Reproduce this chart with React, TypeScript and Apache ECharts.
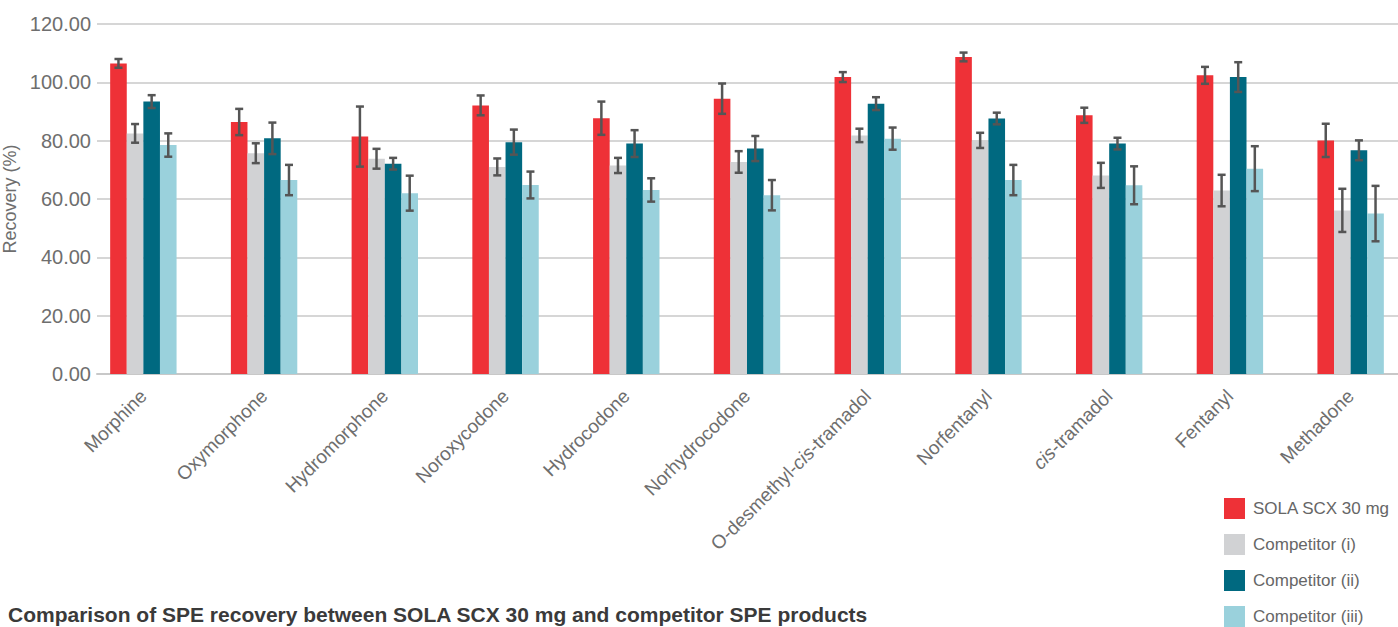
import React, { useEffect, useRef } from "react";
import * as echarts from "echarts";

const categories = [
  "Morphine",
  "Oxymorphone",
  "Hydromorphone",
  "Noroxycodone",
  "Hydrocodone",
  "Norhydrocodone",
  "O-desmethyl-cis-tramadol",
  "Norfentanyl",
  "cis-tramadol",
  "Fentanyl",
  "Methadone",
];

const seriesNames = ["SOLA SCX 30 mg", "Competitor (i)", "Competitor (ii)", "Competitor (iii)"];
const seriesColors = ["#EE3137", "#D1D2D4", "#006980", "#9AD1DC"];

const sola = [106.5, 86.4, 81.4, 92.1, 87.7, 94.4, 101.8, 108.7, 88.7, 102.4, 80.1];
const solaErr = [1.5, 4.5, 10.3, 3.4, 5.7, 5.2, 1.7, 1.5, 2.6, 2.9, 5.7];
const comp1 = [82.5, 75.7, 73.8, 71.0, 71.5, 72.7, 81.8, 80.1, 68.1, 62.9, 56.1];
const comp1Err = [3.2, 3.4, 3.4, 2.9, 2.6, 3.7, 2.3, 2.6, 4.3, 5.4, 7.4];
const comp2 = [93.4, 80.8, 72.1, 79.5, 79.0, 77.3, 92.7, 87.6, 79.0, 101.8, 76.7];
const comp2Err = [2.2, 5.4, 2.0, 4.3, 4.6, 4.3, 2.2, 2.0, 2.0, 5.1, 3.4];
const comp3 = [78.5, 66.5, 62.0, 64.8, 63.1, 61.3, 80.7, 66.5, 64.7, 70.4, 55.0];
const comp3Err = [4.0, 5.2, 6.0, 4.6, 4.0, 5.2, 3.8, 5.2, 6.5, 7.7, 9.5];

const yTicks = { min: 0, max: 120, interval: 20 };
const titleText = "Comparison of SPE recovery between SOLA SCX 30 mg and competitor SPE products";
const yName = "Recovery (%)";

const FONT = "'Liberation Sans', Arial, sans-serif";
const BAR_GAP_CAT = 0.45;

export default function App() {
  const ref = useRef<HTMLDivElement>(null);

  useEffect(() => {
    if (!ref.current) return;
    const chart = echarts.init(ref.current, null, { renderer: "svg" });
    const values = [sola, comp1, comp2, comp3];
    const errs = [solaErr, comp1Err, comp2Err, comp3Err];

    const barSeries = seriesNames.map((name, i) => ({
      name,
      type: "bar",
      xAxisIndex: 1,
      yAxisIndex: 1,
      data: values[i],
      barGap: "0%",
      barCategoryGap: BAR_GAP_CAT * 100 + "%",
      itemStyle: { color: seriesColors[i] },
      z: 2,
    }));

    const errData: number[][] = [];
    values.forEach((arr, si) => {
      arr.forEach((v, ci) => {
        errData.push([ci, v - errs[si][ci], v + errs[si][ci], si]);
      });
    });

    const errorSeries = {
      name: "err",
      type: "custom",
      xAxisIndex: 1,
      yAxisIndex: 1,
      data: errData,
      encode: { x: 0, y: [1, 2] },
      z: 5,
      renderItem: (params: any, api: any) => {
        const ci = api.value(0);
        const lo = api.value(1);
        const hi = api.value(2);
        const si = api.value(3);
        const band = api.size([1, 0])[0];
        const bw = (band * (1 - BAR_GAP_CAT)) / 4;
        const offset = -2 * bw + (si + 0.5) * bw;
        const pLo = api.coord([ci, lo]);
        const pHi = api.coord([ci, hi]);
        const x = pLo[0] + offset;
        const cap = 4;
        const style = { stroke: "#555555", lineWidth: 2.5, fill: "none" };
        return {
          type: "group",
          children: [
            { type: "line", shape: { x1: x, y1: pLo[1], x2: x, y2: pHi[1] }, style },
            { type: "line", shape: { x1: x - cap, y1: pHi[1], x2: x + cap, y2: pHi[1] }, style },
            { type: "line", shape: { x1: x - cap, y1: pLo[1], x2: x + cap, y2: pLo[1] }, style },
          ],
        };
      },
    };

    const option: any = {
      animation: false,
      backgroundColor: "#ffffff",
      textStyle: { fontFamily: FONT },
      title: {
        text: titleText,
        left: 8,
        top: 604,
        padding: 0,
        textStyle: { fontFamily: FONT, fontSize: 21, fontWeight: "bold", color: "#3a3a3a" },
      },
      legend: {
        orient: "vertical",
        left: 1224,
        top: 498,
        height: 200,
        padding: 0,
        itemWidth: 21,
        itemHeight: 21,
        itemGap: 15,
        icon: "rect",
        data: seriesNames,
        textStyle: { fontFamily: FONT, fontSize: 17, color: "#666666", padding: [0, 0, 0, 3] },
      },
      grid: [
        { left: 97, right: 0, top: 24, height: 350, outerBoundsMode: "none", containLabel: false },
        { left: 83, width: 1328, top: 24, height: 350, outerBoundsMode: "none", containLabel: false },
      ],
      xAxis: [
        {
          gridIndex: 0,
          type: "value",
          min: 0,
          max: 1,
          axisLine: { show: true, onZero: false, lineStyle: { color: "#c8c8c8", width: 2 } },
          axisTick: { show: false },
          axisLabel: { show: false },
          splitLine: { show: false },
        },
        {
          gridIndex: 1,
          type: "category",
          data: categories,
          axisLine: { show: false },
          axisTick: { show: false },
          splitLine: { show: false },
          axisLabel: {
            interval: 0,
            rotate: 45,
            margin: 19,
            fontFamily: FONT,
            fontSize: 19,
            color: "#6e6e6e",
            formatter: (v: string) => {
              const parts = v.split("cis");
              if (parts.length === 1) return "{n|" + v + "}";
              return parts.map((p) => (p ? "{n|" + p + "}" : "")).join("{i|cis}");
            },
            rich: {
              n: { fontFamily: FONT, fontSize: 19, color: "#6e6e6e" },
              i: { fontFamily: FONT, fontSize: 19, color: "#6e6e6e", fontStyle: "italic" },
            },
          },
        },
      ],
      yAxis: [
        {
          gridIndex: 0,
          type: "value",
          min: yTicks.min,
          max: yTicks.max,
          interval: yTicks.interval,
          name: yName,
          nameLocation: "middle",
          nameGap: 71,
          nameTextStyle: { fontFamily: FONT, fontSize: 18, color: "#6e6e6e" },
          axisLine: { show: false },
          axisTick: { show: false },
          axisLabel: {
            fontFamily: FONT,
            fontSize: 20,
            color: "#6e6e6e",
            margin: 6,
            formatter: (v: number) => v.toFixed(2),
          },
          splitLine: { show: true, lineStyle: { color: "#c8c8c8", width: 1.5 } },
        },
        {
          gridIndex: 1,
          type: "value",
          min: yTicks.min,
          max: yTicks.max,
          interval: yTicks.interval,
          show: false,
          splitLine: { show: false },
        },
      ],
      series: [...barSeries, errorSeries],
    };

    chart.setOption(option);
    return () => chart.dispose();
  }, []);

  return (
    <div
      ref={ref}
      style={{ position: "fixed", left: 0, top: 0, width: 1398, height: 627, background: "#fff" }}
    />
  );
}
